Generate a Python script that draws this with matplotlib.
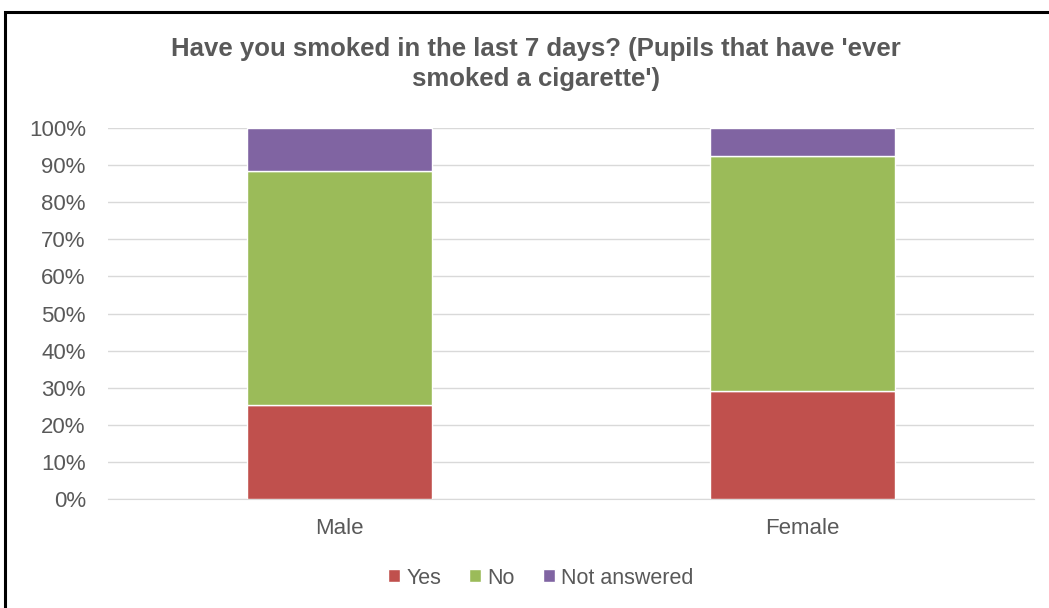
import matplotlib
matplotlib.use("Agg")
import matplotlib.pyplot as plt
import matplotlib.patches as mpatches
import numpy as np

plt.rcParams['font.family'] = ['Liberation Sans', 'DejaVu Sans']

categories = ["Male", "Female"]
yes = [25.4, 29.1]
no = [63.0, 63.4]
not_answered = [11.6, 7.5]
series_names = ["Yes", "No", "Not answered"]
colors = ["#C0504D", "#9BBB59", "#8064A2"]
yticks = list(range(0, 101, 10))
title = "Have you smoked in the last 7 days? (Pupils that have 'ever\nsmoked a cigarette')"

text_color = "#595959"

fig = plt.figure(figsize=(10.49, 6.08), dpi=100)
ax = fig.add_axes([108/1049, 1-499/608, (1034-108)/1049, (499-128)/608])

x = np.arange(len(categories))
bottom = np.zeros(len(categories))
handles = []
for vals, name, c in zip([yes, no, not_answered], series_names, colors):
    b = ax.bar(x, vals, width=0.4, bottom=bottom, color=c, edgecolor="white",
               linewidth=1.0, label=name, zorder=3)
    bottom += np.array(vals)
    handles.append(b)

ax.set_xlim(-0.5, 1.5)
ax.set_ylim(0, 100)
ax.set_yticks(yticks)
ax.set_yticklabels([f"{t}%" for t in yticks])
ax.set_xticks(x)
ax.set_xticklabels(categories)
ax.yaxis.grid(True, color="#D9D9D9", linewidth=1.0, zorder=0)
ax.set_axisbelow(True)
for s in ["top", "right", "left"]:
    ax.spines[s].set_visible(False)
ax.spines["bottom"].set_color("#D9D9D9")
ax.tick_params(axis="both", length=0, labelsize=16, colors=text_color)
ax.tick_params(axis="y", pad=16)
ax.tick_params(axis="x", pad=14)

fig.text(536/1049, 1-64/608, title, ha="center", va="center", fontsize=18.5,
         fontweight="bold", color=text_color, linespacing=1.3)

leg = fig.legend(handles=handles, labels=series_names, loc="center",
                 bbox_to_anchor=(541/1049, 1-578/608), ncol=3, frameon=False,
                 fontsize=15.5, handlelength=0.55, handleheight=0.55,
                 handletextpad=0.3, columnspacing=1.3)
for t in leg.get_texts():
    t.set_color(text_color)

border = mpatches.Rectangle((5/1049, -0.2), 1.2, 1.2 - 12/608, transform=fig.transFigure,
                            fill=False, edgecolor="black", linewidth=2.2, clip_on=False)
fig.patches.append(border)

fig.savefig("out.png", dpi=100)
